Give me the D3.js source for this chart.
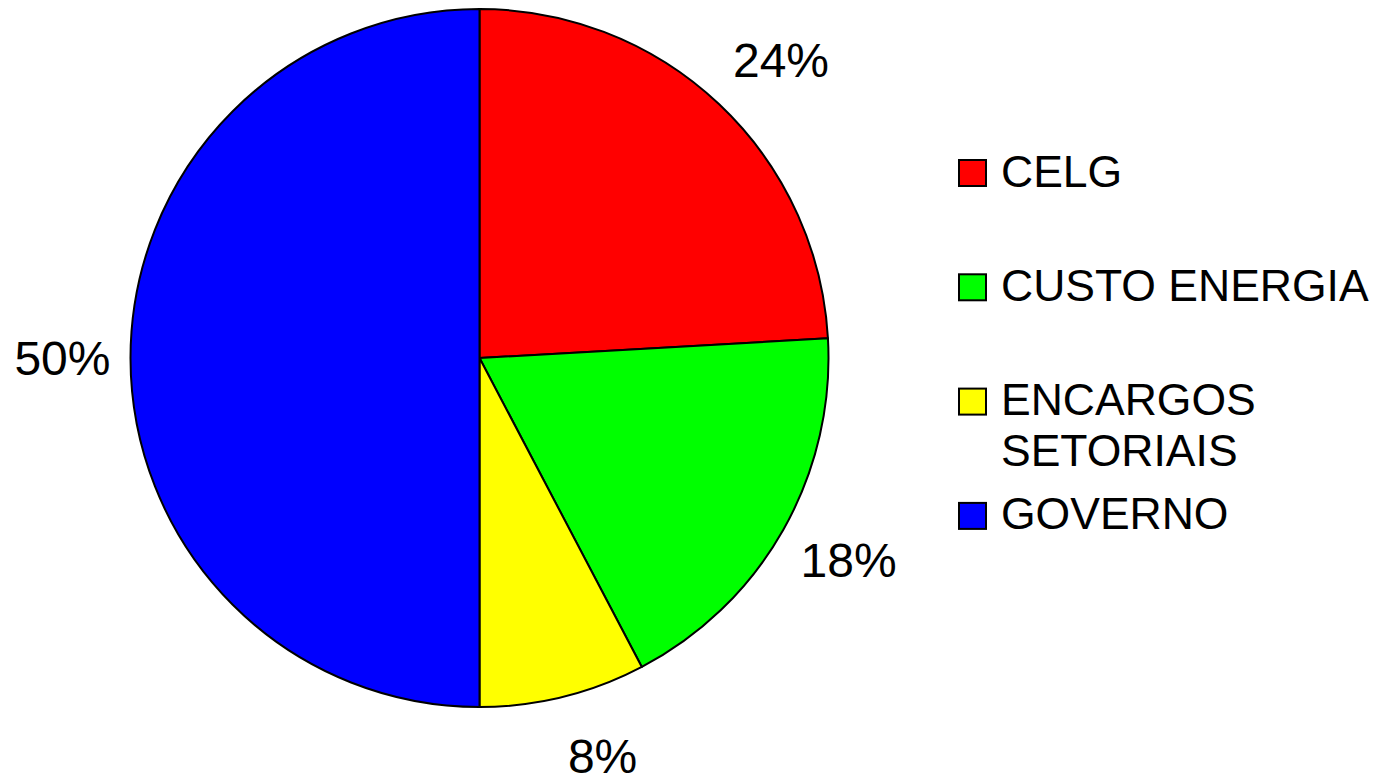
<!DOCTYPE html>
<html>
<head>
<meta charset="utf-8">
<script src="https://cdn.jsdelivr.net/npm/d3@7"></script>
<style>
  html, body { margin: 0; padding: 0; background: #fff; }
  svg { display: block; }
  text { font-family: "Liberation Sans", Arial, sans-serif; fill: #000; }
</style>
</head>
<body>
<svg id="chart" width="1382" height="777"></svg>
<script>
const categories = ["CELG", "CUSTO ENERGIA", "ENCARGOS SETORIAIS", "GOVERNO"];
const legendLines = [["CELG"], ["CUSTO ENERGIA"], ["ENCARGOS", "SETORIAIS"], ["GOVERNO"]];
const values = [24.1, 18.2, 7.7, 50.0];
const percentLabels = ["24%", "18%", "8%", "50%"];
const colors = ["#ff0000", "#00ff00", "#ffff00", "#0000ff"];

const svg = d3.select("#chart");
const cx = 479.5, cy = 358, radius = 349;

const pie = d3.pie().sort(null).value(d => d.value);
const data = categories.map((c, i) => ({ name: c, value: values[i], label: percentLabels[i], color: colors[i] }));
const arcs = pie(data);

const arc = d3.arc().innerRadius(0).outerRadius(radius);

const g = svg.append("g").attr("transform", `translate(${cx},${cy})`);

g.selectAll("path.slice")
  .data(arcs)
  .enter().append("path")
  .attr("class", "slice")
  .attr("d", arc)
  .attr("fill", d => d.data.color)
  .attr("stroke", "#000")
  .attr("stroke-width", 2)
  .attr("stroke-linejoin", "round");

// Percentage labels: anchored just outside the pie along the mid-angle,
// box shifted outward horizontally by its half width
const anchorR = 369, halfH = 41, capHalf = 17;
g.selectAll("text.pct")
  .data(arcs)
  .enter().append("text")
  .attr("class", "pct")
  .attr("text-anchor", "middle")
  .style("font-size", "48px")
  .text(d => d.data.label)
  .each(function(d) {
    const hw = this.getComputedTextLength() / 2;
    const a = (d.startAngle + d.endAngle) / 2;
    const s = Math.sin(a), c = -Math.cos(a);
    const x = anchorR * s + hw * Math.sign(s);
    const y = (anchorR + halfH) * c;
    d3.select(this).attr("x", x).attr("y", y + capHalf);
  });

// Legend
const legendX = 959, legendTop = 160, legendStep = 114.3, sq = 27;
const legend = svg.append("g");
const items = legend.selectAll("g.item")
  .data(data)
  .enter().append("g")
  .attr("class", "item")
  .attr("transform", (d, i) => `translate(${legendX},${legendTop + i * legendStep})`);

items.append("rect")
  .attr("x", 0).attr("y", 0)
  .attr("width", sq).attr("height", sq - 1)
  .attr("fill", d => d.color)
  .attr("stroke", "#000")
  .attr("stroke-width", 2);

items.append("text")
  .style("font-size", "44.5px")
  .each(function(d, i) {
    const t = d3.select(this);
    legendLines[i].forEach((line, j) => {
      t.append("tspan").attr("x", 42).attr("y", 26.5 + j * 50.5).text(line);
    });
  });
</script>
</body>
</html>
